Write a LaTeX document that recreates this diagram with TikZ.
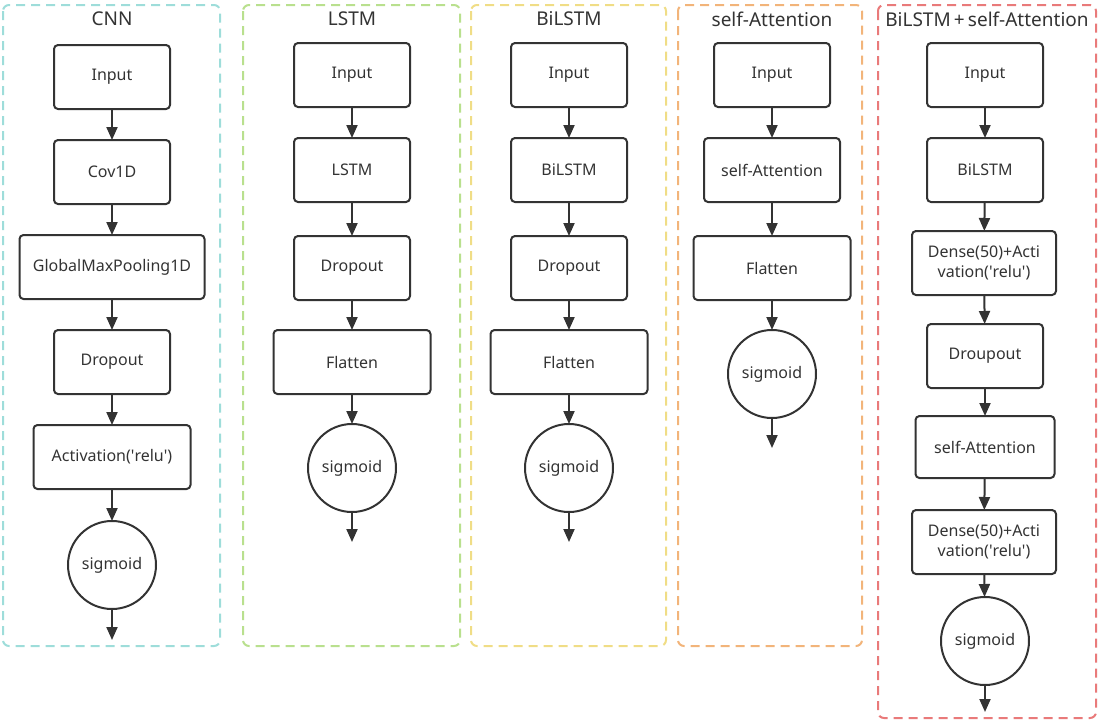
\documentclass[tikz,border=0pt]{standalone}
\usepackage{fontspec}
\setmainfont{Noto Sans}
\usepackage{tikz}
\usetikzlibrary{arrows.meta}
\definecolor{linegray}{HTML}{333333}
\definecolor{cnncol}{HTML}{9EDDDA}
\definecolor{lstmcol}{HTML}{B9E08E}
\definecolor{bilstmcol}{HTML}{F0DD86}
\definecolor{attcol}{HTML}{F2B47A}
\definecolor{mixcol}{HTML}{E97A7A}
\newcommand{\relutxt}{(\textquotesingle relu\textquotesingle)}
\tikzset{
    layernode/.style = {
        align=center,
        text centered,
        rectangle,
        rounded corners=4pt,
        draw=linegray,
        line width=2pt,
        font=\fontsize{16}{19.5}\selectfont,
        text=linegray,
        minimum width=116pt,
        minimum height=64pt,
        inner sep=1pt,
        outer sep=0pt
    },
    widenode/.style = {
        layernode,
        minimum width=157pt
    },
    outnode/.style = {
        layernode,
        circle,
        minimum size=88pt
    },
    frame/.style = {
        dashed,
        dash pattern=on 9pt off 6pt,
        line width=2pt,
        rounded corners=6pt
    },
    frametitle/.style = {
        font=\fontsize{19}{23}\selectfont,
        text=linegray
    },
    flow/.style = {
        draw=linegray,
        line width=2pt,
        -{Triangle[length=13pt,width=11pt]}
    }
}
\begin{document}
\begin{tikzpicture}[x=1pt,y=-1pt]
    \useasboundingbox (0,0) rectangle (1101,721);
    % CNN
    \draw[frame, cnncol] (3,5) rectangle (220,646);
    \node[frametitle] (cnnT) at (112,19) {CNN};
    \node[layernode] (cnn1) at (112,77) {Input};
    \node[layernode] (cnn2) at (112,172) {Cov1D};
    \node[layernode, minimum width=185pt] (cnn3) at (112,267) {GlobalMaxPooling1D};
    \node[layernode] (cnn4) at (112,362) {Dropout};
    \node[widenode] (cnn5) at (112,457) {Activation\relutxt};
    \node[outnode] (cnn6) at (112,565) {sigmoid};
    \coordinate (cnnE) at (112,640);
    \foreach \a/\b in {cnn1/cnn2,cnn2/cnn3,cnn3/cnn4,cnn4/cnn5,cnn5/cnn6,cnn6/cnnE}
        \draw[flow] (\a) -- (\b);
    % LSTM
    \draw[frame, lstmcol] (243,5) rectangle (460,646);
    \node[frametitle] (lstmT) at (352,19) {LSTM};
    \node[layernode] (lstm1) at (352,75) {Input};
    \node[layernode] (lstm2) at (352,170) {LSTM};
    \node[layernode] (lstm3) at (352,268) {Dropout};
    \node[widenode] (lstm4) at (352,362) {Flatten};
    \node[outnode] (lstm5) at (352,468) {sigmoid};
    \coordinate (lstmE) at (352,542);
    \foreach \a/\b in {lstm1/lstm2,lstm2/lstm3,lstm3/lstm4,lstm4/lstm5,lstm5/lstmE}
        \draw[flow] (\a) -- (\b);
    % BiLSTM
    \draw[frame, bilstmcol] (471,5) rectangle (666,646);
    \node[frametitle] (biT) at (569,19) {BiLSTM};
    \node[layernode] (bi1) at (569,75) {Input};
    \node[layernode] (bi2) at (569,170) {BiLSTM};
    \node[layernode] (bi3) at (569,268) {Dropout};
    \node[widenode] (bi4) at (569,362) {Flatten};
    \node[outnode] (bi5) at (569,468) {sigmoid};
    \coordinate (biE) at (569,542);
    \foreach \a/\b in {bi1/bi2,bi2/bi3,bi3/bi4,bi4/bi5,bi5/biE}
        \draw[flow] (\a) -- (\b);
    % self-Attention
    \draw[frame, attcol] (678,5) rectangle (862,646);
    \node[frametitle] (attT) at (772,19) {self-Attention};
    \node[layernode] (att1) at (772,75) {Input};
    \node[layernode, minimum width=136pt] (att2) at (772,170) {self-Attention};
    \node[widenode] (att3) at (772,268) {Flatten};
    \node[outnode] (att4) at (772,374) {sigmoid};
    \coordinate (attE) at (772,448);
    \foreach \a/\b in {att1/att2,att2/att3,att3/att4,att4/attE}
        \draw[flow] (\a) -- (\b);
    % BiLSTM+self-Attention
    \draw[frame, mixcol] (878,5) rectangle (1096,718);
    \node[frametitle] (mixT) at (987,19) {BiLSTM\,+\,self-Attention};
    \node[layernode] (mix1) at (985,75) {Input};
    \node[layernode] (mix2) at (985,170) {BiLSTM};
    \node[layernode, minimum width=144pt] (mix3) at (984,263) {Dense(50)+Acti\\vation\relutxt};
    \node[layernode] (mix4) at (985,356) {Droupout};
    \node[layernode, minimum width=139pt, minimum height=62pt] (mix5) at (985,447) {self-Attention};
    \node[layernode, minimum width=144pt] (mix6) at (984,542) {Dense(50)+Acti\\vation\relutxt};
    \node[outnode] (mix7) at (985,641) {sigmoid};
    \coordinate (mixE) at (985,712);
    \foreach \a/\b in {mix1/mix2,mix2/mix3,mix3/mix4,mix4/mix5,mix5/mix6,mix6/mix7,mix7/mixE}
        \draw[flow] (\a) -- (\b);
\end{tikzpicture}
\end{document}
